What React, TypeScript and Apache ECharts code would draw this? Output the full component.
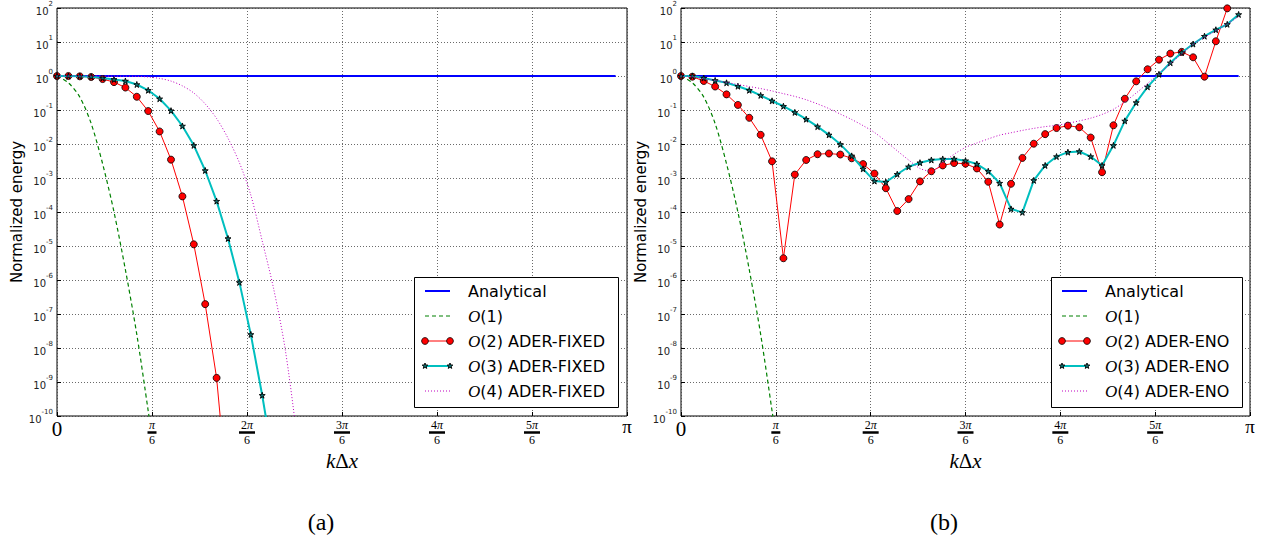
import React, { useEffect, useRef } from "react";
import * as echarts from "echarts";

// sample grid: kΔx = i·π/50, expressed in units of π/6 for the axis
const N_SAMPLES = 50;
const kGridPi6 = Array.from({ length: N_SAMPLES }, (_, i) => (i * 6) / N_SAMPLES);

const xTickLabels = ["0", "π/6", "2π/6", "3π/6", "4π/6", "5π/6", "π"];

const analytical = [
  1, 1, 1, 1, 1, 1, 1, 1, 1, 1, 1, 1, 1, 1, 1, 1, 1, 1, 1, 1, 1, 1, 1, 1, 1,
  1, 1, 1, 1, 1, 1, 1, 1, 1, 1, 1, 1, 1, 1, 1, 1, 1, 1, 1, 1, 1, 1, 1, 1, 1,
];

const order1 = [1, 0.631, 0.24, 0.0398, 2.63e-3, 1e-4, 2.0e-6, 2.51e-8, 1.41e-10, 6.3e-13];

// (a) ADER-FIXED
const fixedO2 = [
  1, 1, 0.977, 0.933, 0.813, 0.661, 0.457, 0.245, 0.0933, 0.0234, 3.47e-3, 2.88e-4,
  1.12e-5, 1.95e-7, 1.32e-9, 3.2e-13,
];
const fixedO3 = [
  1, 1, 0.989, 0.955, 0.871, 0.794, 0.714, 0.562, 0.38, 0.214, 0.0955, 0.0339, 9.12e-3,
  1.66e-3, 2.09e-4, 1.66e-5, 8.51e-7, 2.51e-8, 4.07e-10, 4.0e-12,
];
const fixedO4 = [
  1, 1, 1, 0.995, 0.993, 0.989, 0.984, 0.977, 0.933, 0.851, 0.708, 0.513, 0.316, 0.151,
  0.0562, 0.0148, 2.82e-3, 3.16e-4, 1.41e-5, 5.6e-7, 1e-8, 3.16e-11, 3.16e-14,
];

// (b) ADER-ENO
const enoO2 = [
  1, 0.955, 0.714, 0.49, 0.288, 0.141, 0.0589, 0.0186, 3.09e-3, 4.37e-6, 1.26e-3, 3.39e-3,
  5.01e-3, 5.25e-3, 4.9e-3, 3.8e-3, 2.57e-3, 1.35e-3, 5.01e-4, 1.07e-4, 2.4e-4, 7.94e-4,
  1.58e-3, 2.34e-3, 2.75e-3, 2.63e-3, 1.91e-3, 7.76e-4, 4.27e-5, 6.76e-4, 3.89e-3, 0.0102,
  0.0195, 0.0295, 0.0347, 0.0309, 0.0155, 1.48e-3, 0.0355, 0.214, 0.697, 1.58, 3.02, 4.57,
  5.13, 3.55, 0.955, 10.5, 97.7,
];
const enoO3 = [
  1, 1, 0.871, 0.741, 0.631, 0.501, 0.38, 0.269, 0.186, 0.129, 0.0851, 0.0537, 0.0324,
  0.0186, 9.77e-3, 4.47e-3, 1.86e-3, 8.13e-4, 7.59e-4, 1.29e-3, 2.14e-3, 2.82e-3, 3.39e-3,
  3.63e-3, 3.63e-3, 3.24e-3, 2.57e-3, 1.58e-3, 7.08e-4, 1.23e-4, 9.77e-5, 8.51e-4, 2.34e-3,
  4.27e-3, 5.75e-3, 6.03e-3, 4.27e-3, 2.34e-3, 9.12e-3, 0.0479, 0.166, 0.479, 1.12, 2.45,
  4.9, 8.71, 14.8, 22.9, 33.1, 64.6,
];
const enoO4 = [
  1, 0.955, 0.832, 0.741, 0.646, 0.562, 0.49, 0.427, 0.363, 0.302, 0.251, 0.2, 0.151, 0.11,
  0.0759, 0.0525, 0.0347, 0.0219, 0.012, 6.31e-3, 3.39e-3, 1.91e-3, 1.58e-3, 2.82e-3,
  5.01e-3, 7.94e-3, 0.0107, 0.0141, 0.0182, 0.0214, 0.0251, 0.0288, 0.0324, 0.0355, 0.0407,
  0.0479, 0.0575, 0.0741, 0.105, 0.174, 0.316, 0.603, 1.17, 2.29, 4.47, 8.71, 13.8, 21.4,
  33.9, 56.2,
];

const legendA = ["Analytical", "O(1)", "O(2) ADER-FIXED", "O(3) ADER-FIXED", "O(4) ADER-FIXED"];
const legendB = ["Analytical", "O(1)", "O(2) ADER-ENO", "O(3) ADER-ENO", "O(4) ADER-ENO"];

const C_BLUE = "#0000ff";
const C_GREEN = "#008000";
const C_RED = "#ff0000";
const C_CYAN = "#00bfbf";
const C_MAG = "#bf00bf";
const C_STAR = "#0f6f6f";

const STAR_PATH =
  "path://M50,0 L61,35 L98,35 L68,57 L79,91 L50,70 L21,91 L32,57 L2,35 L39,35 Z";

const SERIF = "'Liberation Serif', 'DejaVu Serif', serif";
const SANS = "'DejaVu Sans', sans-serif";

const toData = (vals: number[]) => vals.map((v, i) => [kGridPi6[i], v]);

function xLabelFormatter(v: number) {
  const k = Math.round(v);
  const lab = xTickLabels[k] || "";
  if (k === 0) return "{z|0}";
  if (k === 6) return "{p|π}";
  const num = lab.split("/")[0];
  if (num === "π") return "{n|π}\n{bs| }\n{d|6}";
  return `{nd|${num.replace("π", "")}}{n|π}\n{bl| }\n{d|6}`;
}

const xRich = {
  z: { fontFamily: SERIF, fontSize: 21, lineHeight: 20, color: "#000" },
  p: { fontFamily: SERIF, fontSize: 19, lineHeight: 15, color: "#000" },
  n: { fontFamily: SERIF, fontStyle: "italic", fontSize: 12, lineHeight: 12, color: "#000" },
  nd: { fontFamily: SERIF, fontSize: 12, lineHeight: 12, color: "#000" },
  bs: { width: 9, height: 2.5, lineHeight: 3, fontSize: 2, backgroundColor: "#000" },
  bl: { width: 16, height: 2.5, lineHeight: 3, fontSize: 2, backgroundColor: "#000" },
  d: { fontFamily: SERIF, fontSize: 12, lineHeight: 11, color: "#000" },
};

function yLabelFormatter(v: number) {
  const e = Math.round(Math.log10(v));
  return `{b|10}{e|${e}}`;
}
const yRich = {
  b: { fontFamily: SANS, fontSize: 10, lineHeight: 16, verticalAlign: "bottom", color: "#222" },
  e: { fontFamily: SANS, fontSize: 7, lineHeight: 8, verticalAlign: "top", color: "#222" },
};

function starPoints(cx: number, cy: number, R: number, r: number) {
  const pts: number[][] = [];
  for (let k = 0; k < 10; k++) {
    const a = -Math.PI / 2 + (k * Math.PI) / 5;
    const rad = k % 2 ? r : R;
    pts.push([cx + rad * Math.cos(a), cy + rad * Math.sin(a)]);
  }
  return pts;
}

function buildLegend(x: number, y: number, w: number, h: number, labels: string[]) {
  const els: any[] = [];
  els.push({
    type: "rect",
    z: 100,
    shape: { x: x + 0.5, y: y + 0.5, width: w, height: h },
    style: { fill: "#fff", stroke: "#000", lineWidth: 1 },
  });
  const x1 = x + 11;
  const x2 = x + 36;
  const tx = x + 54;
  const rows = [14, 39, 64, 89, 114];
  const styles = [
    { stroke: C_BLUE, lineWidth: 2 },
    { stroke: C_GREEN, lineWidth: 1.2, lineDash: [4, 3] },
    { stroke: C_RED, lineWidth: 1 },
    { stroke: C_CYAN, lineWidth: 2 },
    { stroke: C_MAG, lineWidth: 1, lineDash: [1, 2] },
  ];
  rows.forEach((dy, i) => {
    const yy = y + dy;
    els.push({
      type: "line",
      z: 101,
      shape: { x1, y1: yy, x2, y2: yy },
      style: styles[i],
    });
    if (i === 2) {
      [x1, x2].forEach((cx) =>
        els.push({
          type: "circle",
          z: 102,
          shape: { cx, cy: yy, r: 3.4 },
          style: { fill: C_RED, stroke: "#000", lineWidth: 0.8 },
        })
      );
    }
    if (i === 3) {
      [x1, x2].forEach((cx) =>
        els.push({
          type: "polygon",
          z: 102,
          shape: { points: starPoints(cx, yy, 3, 1.3) },
          style: { fill: C_STAR, stroke: "#000", lineWidth: 0.9 },
        })
      );
    }
    const lab = labels[i];
    const text = lab.startsWith("O(") ? `{m|O}${lab.slice(1)}` : lab;
    els.push({
      type: "text",
      z: 101,
      x: tx,
      y: yy,
      style: {
        text,
        fontFamily: SANS,
        fontSize: 16,
        fill: "#000",
        verticalAlign: "middle",
        rich: {
          m: { fontFamily: SERIF, fontStyle: "italic", fontSize: 17, fill: "#000" },
        },
      },
    });
  });
  return els;
}

function axesFor(gi: number) {
  const splitStyle = { color: "#444", type: [1, 2] as any, width: 0.8 };
  return {
    x: {
      gridIndex: gi,
      type: "value",
      min: 0,
      max: 6,
      interval: 1,
      name: "{i|k}{u|Δ}{i|x}",
      nameLocation: "middle",
      nameGap: 30,
      nameTextStyle: {
        rich: {
          i: { fontFamily: SERIF, fontStyle: "italic", fontSize: 21, color: "#000" },
          u: { fontFamily: SERIF, fontSize: 21, color: "#000" },
        },
      },
      axisLine: { show: false },
      axisTick: { show: true, inside: true, length: 4, lineStyle: { color: "#000" } },
      splitLine: { show: true, lineStyle: splitStyle },
      axisLabel: { formatter: xLabelFormatter, rich: xRich, margin: 3, showMinLabel: true, showMaxLabel: true },
    },
    y: {
      gridIndex: gi,
      type: "log",
      logBase: 10,
      min: 1e-10,
      max: 1e2,
      interval: 1,
      name: "Normalized energy",
      nameLocation: "middle",
      nameGap: 33,
      nameTextStyle: { fontFamily: SANS, fontSize: 15, color: "#000" },
      axisLine: { show: false },
      axisTick: { show: true, inside: true, length: 4, lineStyle: { color: "#000" } },
      splitLine: { show: true, lineStyle: splitStyle },
      axisLabel: { formatter: yLabelFormatter, rich: yRich, margin: 4, showMinLabel: true, showMaxLabel: true },
    },
  };
}

function seriesFor(gi: number, names: string[], o2: number[], o3: number[], o4: number[]) {
  const base = { type: "line", xAxisIndex: gi, yAxisIndex: gi, clip: true };
  return [
    {
      ...base,
      name: names[0],
      data: toData(analytical),
      showSymbol: false,
      lineStyle: { color: C_BLUE, width: 2 },
      itemStyle: { color: C_BLUE },
      z: 2,
    },
    {
      ...base,
      name: names[1],
      data: toData(order1),
      showSymbol: false,
      smooth: 0.3,
      lineStyle: { color: C_GREEN, width: 1.2, type: [4, 3] },
      itemStyle: { color: C_GREEN },
      z: 3,
    },
    {
      ...base,
      name: names[2],
      data: toData(o2),
      symbol: "circle",
      symbolSize: 7,
      lineStyle: { color: C_RED, width: 1 },
      itemStyle: { color: C_RED, borderColor: "#000", borderWidth: 0.8 },
      z: 4,
    },
    {
      ...base,
      name: names[3],
      data: toData(o3),
      symbol: STAR_PATH,
      symbolSize: 6,
      lineStyle: { color: C_CYAN, width: 2 },
      itemStyle: { color: C_STAR, borderColor: "#000", borderWidth: 0.9 },
      z: 5,
    },
    {
      ...base,
      name: names[4],
      data: toData(o4),
      showSymbol: false,
      smooth: 0.3,
      lineStyle: { color: C_MAG, width: 1, type: [1, 2] },
      itemStyle: { color: C_MAG },
      z: 6,
    },
  ];
}

export default function App() {
  const ref = useRef<HTMLDivElement>(null);
  useEffect(() => {
    document.body.style.margin = "0";
    if (!ref.current) return;
    const chart = echarts.init(ref.current, null, { renderer: "svg" });
    const a0 = axesFor(0);
    const a1 = axesFor(1);
    const option: any = {
      animation: false,
      backgroundColor: "#fff",
      grid: [
        { left: 57, top: 4, width: 570, height: 412, show: true, borderColor: "#000", borderWidth: 1, backgroundColor: "transparent" },
        { left: 681, top: 4, width: 569, height: 412, show: true, borderColor: "#000", borderWidth: 1, backgroundColor: "transparent" },
      ],
      xAxis: [a0.x, a1.x],
      yAxis: [a0.y, a1.y],
      series: [
        ...seriesFor(0, legendA, fixedO2, fixedO3, fixedO4),
        ...seriesFor(1, legendB, enoO2, enoO3, enoO4),
      ],
      graphic: [
        ...buildLegend(414, 277, 204, 130, legendA),
        ...buildLegend(1051, 277, 191, 130, legendB),
        {
          type: "text",
          x: 321,
          y: 522,
          style: { text: "(a)", fontFamily: SERIF, fontSize: 24, fill: "#000", align: "center", verticalAlign: "middle" },
        },
        {
          type: "text",
          x: 944,
          y: 522,
          style: { text: "(b)", fontFamily: SERIF, fontSize: 24, fill: "#000", align: "center", verticalAlign: "middle" },
        },
      ],
    };
    chart.setOption(option);
    return () => chart.dispose();
  }, []);
  return <div ref={ref} style={{ width: 1268, height: 541 }} />;
}
